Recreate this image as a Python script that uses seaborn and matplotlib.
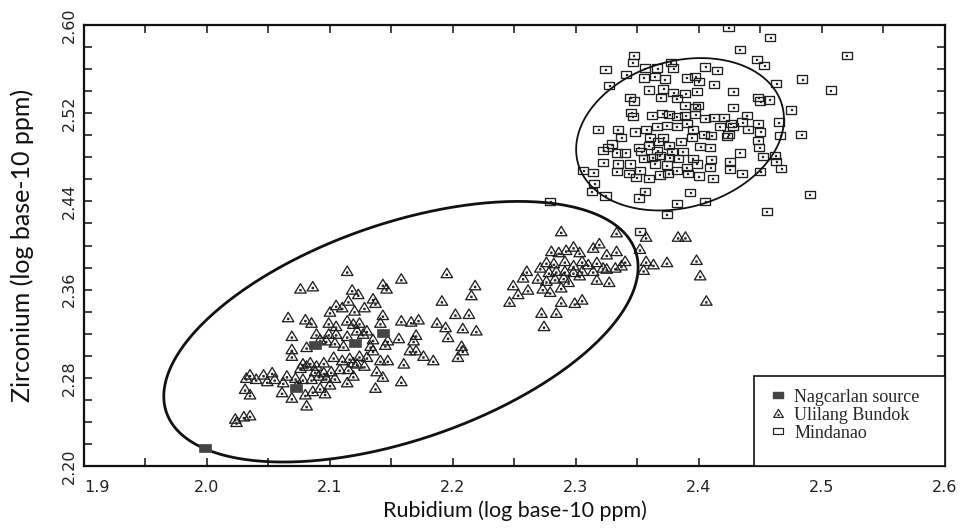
import numpy as np
import pandas as pd
import seaborn as sns
import matplotlib.pyplot as plt
from matplotlib.path import Path
from matplotlib.lines import Line2D
from matplotlib.patches import Rectangle
from matplotlib.ticker import MultipleLocator, FixedLocator, FormatStrFormatter

# Nagcarlan source (filled squares)
ng_rb = [1.998, 2.072, 2.088, 2.120, 2.143]
ng_zr = [2.216, 2.271, 2.310, 2.312, 2.321]

# Ulilang Bundok (triangles)
ub_rb = [2.114, 2.076, 2.086, 2.143, 2.158, 2.195, 2.218, 2.215, 2.191, 2.118,
         2.123, 2.146, 2.115, 2.135, 2.137, 2.105, 2.100, 2.110, 2.120, 2.128,
         2.143, 2.066, 2.080, 2.085, 2.099, 2.105, 2.114, 2.119, 2.124, 2.141,
         2.158, 2.166, 2.172, 2.187, 2.194, 2.202, 2.213, 2.208, 2.219, 2.196,
         2.207, 2.208, 2.204, 2.184, 2.176, 2.170, 2.165, 2.168, 2.170, 2.156,
         2.147, 2.135, 2.133, 2.145, 2.127, 2.130, 2.122, 2.114, 2.105, 2.099,
         2.089, 2.092, 2.097, 2.104, 2.111, 2.069, 2.081, 2.069, 2.069, 2.078,
         2.084, 2.089, 2.095, 2.103, 2.110, 2.116, 2.124, 2.130, 2.135, 2.141,
         2.147, 2.160, 2.128, 2.122, 2.115, 2.108, 2.101, 2.095, 2.088, 2.081,
         2.076, 2.119, 2.114, 2.104, 2.097, 2.091, 2.085, 2.078, 2.072, 2.065,
         2.062, 2.055, 2.049, 2.046, 2.053, 2.035, 2.031, 2.035, 2.061, 2.069,
         2.080, 2.086, 2.092, 2.096, 2.081, 2.137, 2.143, 2.158, 2.138, 2.119,
         2.024, 2.030, 2.035, 2.023, 2.100, 2.073, 2.032, 2.040,
         2.288, 2.333, 2.280, 2.286, 2.292, 2.298, 2.303, 2.314, 2.319, 2.325,
         2.333, 2.340, 2.276, 2.282, 2.291, 2.298, 2.305, 2.310, 2.317, 2.322,
         2.332, 2.337, 2.271, 2.278, 2.284, 2.291, 2.298, 2.305, 2.314, 2.325,
         2.260, 2.257, 2.269, 2.276, 2.283, 2.290, 2.294, 2.303, 2.317, 2.327,
         2.249, 2.253, 2.261, 2.273, 2.279, 2.288, 2.246, 2.288, 2.299, 2.305,
         2.272, 2.284, 2.274,
         2.357, 2.383, 2.389, 2.352, 2.357, 2.363, 2.374, 2.355, 2.398, 2.401,
         2.406]
ub_zr = [2.377, 2.361, 2.363, 2.365, 2.370, 2.375, 2.364, 2.355, 2.350, 2.360,
         2.356, 2.361, 2.350, 2.352, 2.348, 2.346, 2.340, 2.344, 2.341, 2.344,
         2.337, 2.335, 2.333, 2.330, 2.330, 2.327, 2.332, 2.329, 2.330, 2.330,
         2.332, 2.331, 2.333, 2.330, 2.326, 2.338, 2.338, 2.325, 2.323, 2.317,
         2.309, 2.305, 2.299, 2.296, 2.300, 2.305, 2.305, 2.314, 2.319, 2.316,
         2.314, 2.315, 2.309, 2.310, 2.320, 2.323, 2.323, 2.318, 2.320, 2.320,
         2.320, 2.315, 2.314, 2.312, 2.309, 2.318, 2.308, 2.306, 2.300, 2.293,
         2.294, 2.291, 2.294, 2.299, 2.296, 2.298, 2.300, 2.299, 2.305, 2.296,
         2.296, 2.293, 2.291, 2.293, 2.288, 2.288, 2.286, 2.285, 2.286, 2.291,
         2.289, 2.282, 2.276, 2.280, 2.280, 2.282, 2.279, 2.279, 2.280, 2.282,
         2.276, 2.279, 2.277, 2.283, 2.285, 2.283, 2.270, 2.265, 2.267, 2.262,
         2.265, 2.268, 2.271, 2.266, 2.255, 2.271, 2.281, 2.277, 2.286, 2.294,
         2.240, 2.245, 2.246, 2.243, 2.274, 2.273, 2.280, 2.279,
         2.413, 2.412, 2.395, 2.394, 2.396, 2.399, 2.394, 2.398, 2.402, 2.392,
         2.395, 2.386, 2.385, 2.384, 2.386, 2.382, 2.386, 2.383, 2.385, 2.380,
         2.380, 2.382, 2.380, 2.376, 2.377, 2.377, 2.376, 2.377, 2.377, 2.379,
         2.377, 2.371, 2.370, 2.368, 2.370, 2.371, 2.367, 2.373, 2.369, 2.367,
         2.364, 2.356, 2.360, 2.361, 2.358, 2.362, 2.349, 2.349, 2.348, 2.351,
         2.339, 2.339, 2.327,
         2.408, 2.408, 2.408, 2.397, 2.386, 2.383, 2.385, 2.378, 2.387, 2.373,
         2.350]

# Mindanao (squares with a dot)
mi_rb = [2.424, 2.458, 2.433, 2.447, 2.453, 2.347, 2.346, 2.324, 2.341, 2.356,
         2.366, 2.377, 2.379, 2.327, 2.355, 2.364, 2.372, 2.390, 2.397, 2.400,
         2.405, 2.415, 2.412, 2.428, 2.463, 2.484, 2.507, 2.359, 2.371, 2.379,
         2.389, 2.398, 2.344, 2.347, 2.369, 2.382, 2.389, 2.397, 2.399, 2.428,
         2.448, 2.450, 2.457, 2.475, 2.345, 2.346, 2.362, 2.370, 2.376, 2.382,
         2.389, 2.397, 2.405, 2.412, 2.420, 2.426, 2.435, 2.439, 2.448, 2.465,
         2.318, 2.334, 2.337, 2.348, 2.357, 2.366, 2.374, 2.382, 2.390, 2.395,
         2.404, 2.410, 2.417, 2.424, 2.428, 2.440, 2.450, 2.466, 2.483, 2.326,
         2.329, 2.322, 2.333, 2.340, 2.351, 2.359, 2.367, 2.376, 2.385, 2.394,
         2.401, 2.409, 2.423, 2.448, 2.449, 2.452, 2.462, 2.463, 2.467, 2.322,
         2.334, 2.333, 2.344, 2.355, 2.362, 2.368, 2.376, 2.383, 2.395, 2.410,
         2.425, 2.433, 2.306, 2.314, 2.315, 2.313, 2.324, 2.349, 2.359, 2.368,
         2.375, 2.382, 2.391, 2.400, 2.411, 2.409, 2.425, 2.435, 2.450, 2.356,
         2.351, 2.393, 2.382, 2.405, 2.374, 2.455, 2.490, 2.353, 2.360, 2.371,
         2.364, 2.374, 2.390, 2.398, 2.352, 2.343, 2.366, 2.378, 2.387,
         2.352, 2.279, 2.520]
mi_zr = [2.598, 2.589, 2.578, 2.569, 2.563, 2.572, 2.566, 2.560, 2.555, 2.561,
         2.561, 2.566, 2.561, 2.545, 2.552, 2.553, 2.551, 2.552, 2.553, 2.549,
         2.562, 2.559, 2.546, 2.540, 2.547, 2.551, 2.541, 2.541, 2.542, 2.539,
         2.538, 2.540, 2.534, 2.531, 2.534, 2.533, 2.527, 2.525, 2.527, 2.525,
         2.534, 2.531, 2.532, 2.523, 2.521, 2.517, 2.518, 2.520, 2.519, 2.517,
         2.518, 2.519, 2.515, 2.516, 2.516, 2.511, 2.512, 2.518, 2.511, 2.512,
         2.505, 2.505, 2.498, 2.503, 2.505, 2.508, 2.509, 2.508, 2.511, 2.505,
         2.501, 2.500, 2.508, 2.501, 2.508, 2.505, 2.503, 2.500, 2.501, 2.489,
         2.492, 2.486, 2.484, 2.484, 2.489, 2.491, 2.494, 2.491, 2.494, 2.498,
         2.490, 2.489, 2.499, 2.495, 2.489, 2.481, 2.482, 2.476, 2.470, 2.475,
         2.474, 2.467, 2.474, 2.479, 2.480, 2.482, 2.480, 2.479, 2.479, 2.478,
         2.476, 2.484, 2.468, 2.466, 2.456, 2.449, 2.445, 2.462, 2.461, 2.464,
         2.465, 2.468, 2.465, 2.463, 2.461, 2.471, 2.469, 2.465, 2.467, 2.449,
         2.443, 2.448, 2.438, 2.440, 2.428, 2.431, 2.446, 2.485, 2.498, 2.498,
         2.474, 2.473, 2.471, 2.474, 2.468, 2.465, 2.486, 2.485, 2.485,
         2.413, 2.440, 2.572]

# group ellipses: centre and two conjugate semi-axes (data units)
ub_ell = dict(c=(2.1577, 2.3218), u=(0.1907, 0.0731), v=(0.0285, -0.0929))
mi_ell = dict(c=(2.3846, 2.5009), u=(0.0829, 0.0266), v=(0.0163, -0.0638))

x_ticks = [1.9, 2.0, 2.1, 2.2, 2.3, 2.4, 2.5, 2.6]
y_ticks = [2.20, 2.28, 2.36, 2.44, 2.52, 2.60]

legend_labels = ["Nagcarlan source", "Ulilang Bundok", "Mindanao"]


def outline_marker(outer, dot_at):
    # outline shape plus a tiny inner square acting as the centre dot
    d = 0.1
    cx, cy = dot_at
    dot = [(cx - d, cy - d), (cx + d, cy - d), (cx + d, cy + d), (cx - d, cy + d), (cx - d, cy - d)]
    verts = list(outer) + [outer[0]] + dot
    codes = ([Path.MOVETO] + [Path.LINETO] * (len(outer) - 1) + [Path.CLOSEPOLY]
             + [Path.MOVETO] + [Path.LINETO] * 3 + [Path.CLOSEPOLY])
    return Path(verts, codes)


sq_marker = outline_marker([(-1, -0.72), (1, -0.72), (1, 0.72), (-1, 0.72)], (0, 0))
tri_marker = outline_marker([(-1, -0.8), (1, -0.8), (0, 0.85)], (0, -0.3))
fill_marker = Path([(-1, -0.72), (1, -0.72), (1, 0.72), (-1, 0.72), (-1, -0.72)],
                   [Path.MOVETO, Path.LINETO, Path.LINETO, Path.LINETO, Path.CLOSEPOLY])

ink = "#202020"

sns.set_theme(style="ticks")
plt.rcParams["font.family"] = ["DejaVu Sans"]

fig = plt.figure(figsize=(9.72, 5.29), dpi=100)
ax = fig.add_axes([0.0864, 0.1191, 0.8858, 0.8336])

mi = pd.DataFrame({"rb": mi_rb, "zr": mi_zr})
ub = pd.DataFrame({"rb": ub_rb, "zr": ub_zr})
ng = pd.DataFrame({"rb": ng_rb, "zr": ng_zr})

sns.scatterplot(data=mi, x="rb", y="zr", ax=ax, marker=sq_marker, s=52,
                color=ink, facecolor="none", edgecolor=ink, linewidth=0.95, legend=False)
sns.scatterplot(data=ub, x="rb", y="zr", ax=ax, marker=tri_marker, s=68,
                color=ink, facecolor="none", edgecolor=ink, linewidth=0.95, legend=False)
sns.scatterplot(data=ng, x="rb", y="zr", ax=ax, marker=fill_marker, s=72,
                color="#454545", edgecolor="#454545", linewidth=0.5, legend=False, zorder=3)

t = np.linspace(0, 2 * np.pi, 400)
for ell, lw in [(ub_ell, 2.0), (mi_ell, 1.3)]:
    ex = ell["c"][0] + ell["u"][0] * np.cos(t) + ell["v"][0] * np.sin(t)
    ey = ell["c"][1] + ell["u"][1] * np.cos(t) + ell["v"][1] * np.sin(t)
    ax.plot(ex, ey, color="#111111", lw=lw)

ax.set_xlim(1.9, 2.6)
ax.set_ylim(2.20, 2.60)
ax.xaxis.set_major_locator(FixedLocator(x_ticks))
ax.xaxis.set_minor_locator(MultipleLocator(0.05))
ax.yaxis.set_major_locator(FixedLocator(y_ticks))
ax.yaxis.set_minor_locator(MultipleLocator(0.02))
ax.xaxis.set_major_formatter(FormatStrFormatter("%.1f"))
ax.yaxis.set_major_formatter(FormatStrFormatter("%.2f"))

ax.tick_params(which="both", direction="in", top=True, right=True,
               length=6, width=1.2, color="#222222")
ax.tick_params(axis="x", labelsize=11.5, pad=10, labelcolor="#222222")
ax.tick_params(axis="y", labelsize=11.5, pad=5, labelrotation=90, labelcolor="#222222")
for lab in ax.get_yticklabels():
    lab.set_va("center")
ax.get_xticklabels()[0].set_ha("left")

for sp in ax.spines.values():
    sp.set_linewidth(1.6)
    sp.set_color("#111111")

ax.set_xlabel("Rubidium (log base-10 ppm)", fontsize=15.5, family=["Lato", "DejaVu Sans"], color="#111111")
ax.set_ylabel("Zirconium (log base-10 ppm)", fontsize=18, family=["Lato", "DejaVu Sans"], color="#111111")
ax.xaxis.set_label_coords(0.5, -0.078)
ax.yaxis.set_label_coords(-0.058, 0.5)

# legend box sits in the lower-right corner of the axes
ax.add_patch(Rectangle((0.778, 0.0), 0.222, 0.204, transform=ax.transAxes,
                       facecolor="white", edgecolor="#111111", lw=1.2, zorder=4))
handles = [
    Line2D([], [], ls="none", marker=fill_marker, ms=7, mfc="#454545", mec="#454545"),
    Line2D([], [], ls="none", marker=tri_marker, ms=7, mfc="none", mec=ink, mew=0.85),
    Line2D([], [], ls="none", marker=sq_marker, ms=6.5, mfc="none", mec=ink, mew=0.85),
]
leg = ax.legend(handles, legend_labels, loc="upper left", bbox_to_anchor=(0.779, 0.208),
                frameon=False, handlelength=1.0, handletextpad=0.4, labelspacing=0.05,
                borderpad=0.3, prop={"family": ["Liberation Serif"], "size": 13})
leg.set_zorder(5)

fig.savefig("out.png", dpi=100, facecolor="white")
